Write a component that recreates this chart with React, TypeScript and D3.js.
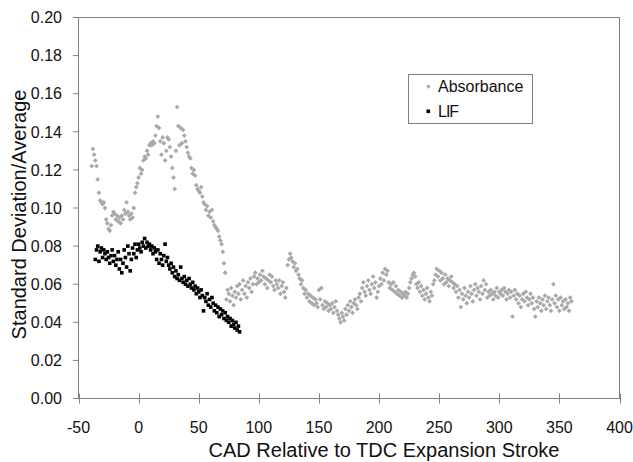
import React from "react";
import * as d3 from "d3";

// CAD grid (1-degree sampling) for each series
const ABS_START = -39;
const LIF_START = -36;

// Absorbance: standard deviation / average, one value per CAD degree from -39 to 360
const absorbanceValues = [
  0.122,0.131,0.128,0.125,0.122,0.115,0.108,0.104,0.103,0.102,
  0.103,0.100,0.094,0.092,0.089,0.088,0.091,0.096,0.098,0.097,
  0.094,0.096,0.093,0.095,0.092,0.096,0.094,0.099,0.097,0.103,
  0.098,0.096,0.094,0.097,0.095,0.100,0.108,0.111,0.113,0.116,
  0.121,0.118,0.120,0.125,0.127,0.126,0.130,0.128,0.133,0.134,
  0.133,0.135,0.134,0.138,0.143,0.148,0.142,0.135,0.128,0.137,
  0.134,0.125,0.130,0.137,0.136,0.132,0.127,0.121,0.116,0.110,
  0.130,0.153,0.143,0.133,0.142,0.134,0.141,0.138,0.135,0.132,
  0.129,0.127,0.126,0.121,0.118,0.120,0.117,0.112,0.110,0.109,
  0.108,0.111,0.106,0.103,0.102,0.099,0.101,0.096,0.098,0.095,
  0.099,0.093,0.091,0.090,0.089,0.088,0.085,0.083,0.081,0.077,
  0.071,0.066,0.052,0.057,0.055,0.051,0.058,0.054,0.049,0.056,
  0.053,0.059,0.055,0.060,0.052,0.057,0.062,0.055,0.059,0.053,
  0.061,0.058,0.063,0.056,0.060,0.064,0.066,0.060,0.063,0.061,
  0.065,0.062,0.067,0.064,0.060,0.063,0.058,0.062,0.065,0.061,
  0.064,0.059,0.057,0.062,0.060,0.058,0.062,0.055,0.059,0.061,
  0.056,0.053,0.058,0.070,0.073,0.076,0.074,0.072,0.069,0.071,
  0.067,0.068,0.065,0.063,0.060,0.062,0.058,0.055,0.057,0.053,
  0.055,0.051,0.054,0.050,0.053,0.049,0.052,0.050,0.048,0.057,
  0.052,0.058,0.049,0.047,0.051,0.048,0.050,0.046,0.049,0.047,
  0.050,0.045,0.048,0.051,0.046,0.044,0.042,0.040,0.045,0.043,
  0.041,0.047,0.044,0.049,0.046,0.051,0.048,0.045,0.050,0.052,
  0.049,0.047,0.053,0.055,0.051,0.058,0.061,0.056,0.054,0.059,
  0.062,0.057,0.055,0.060,0.064,0.058,0.061,0.053,0.056,0.059,
  0.063,0.060,0.066,0.062,0.068,0.065,0.067,0.061,0.058,0.060,
  0.057,0.061,0.056,0.059,0.055,0.057,0.054,0.056,0.053,0.055,
  0.054,0.056,0.053,0.055,0.058,0.061,0.063,0.065,0.066,0.064,
  0.060,0.058,0.061,0.056,0.059,0.054,0.057,0.052,0.055,0.058,
  0.053,0.051,0.056,0.054,0.060,0.062,0.065,0.068,0.064,0.067,
  0.062,0.066,0.063,0.060,0.065,0.061,0.063,0.059,0.062,0.064,
  0.061,0.058,0.060,0.056,0.059,0.053,0.057,0.048,0.055,0.052,
  0.058,0.054,0.050,0.056,0.053,0.059,0.055,0.051,0.057,0.060,
  0.054,0.058,0.056,0.052,0.059,0.055,0.062,0.057,0.060,0.053,
  0.056,0.054,0.057,0.055,0.052,0.056,0.054,0.058,0.053,0.056,
  0.055,0.057,0.054,0.058,0.056,0.052,0.055,0.057,0.053,0.056,
  0.043,0.054,0.057,0.052,0.055,0.050,0.054,0.048,0.052,0.055,
  0.051,0.056,0.053,0.049,0.052,0.055,0.050,0.053,0.047,0.043,
  0.051,0.048,0.053,0.050,0.046,0.052,0.049,0.054,0.047,0.051,
  0.053,0.049,0.046,0.052,0.060,0.050,0.054,0.048,0.052,0.046,
  0.053,0.049,0.051,0.047,0.052,0.048,0.050,0.046,0.053,0.051,
];

// LIF: one value per CAD degree from -36 to 84
const lifValues = [
  0.073,0.078,0.080,0.072,0.077,0.079,0.074,0.078,0.076,0.073,
  0.077,0.074,0.071,0.075,0.078,0.072,0.075,0.070,0.073,0.077,
  0.068,0.073,0.066,0.071,0.078,0.074,0.069,0.080,0.076,0.067,
  0.073,0.079,0.076,0.081,0.074,0.078,0.081,0.079,0.077,0.082,
  0.080,0.084,0.079,0.082,0.080,0.081,0.078,0.080,0.076,0.079,
  0.077,0.073,0.078,0.071,0.076,0.073,0.070,0.075,0.081,0.072,
  0.074,0.070,0.068,0.071,0.066,0.069,0.064,0.067,0.063,0.065,
  0.062,0.069,0.063,0.061,0.064,0.060,0.062,0.059,0.063,0.060,
  0.058,0.061,0.057,0.059,0.055,0.058,0.056,0.053,0.057,0.054,
  0.046,0.053,0.051,0.055,0.049,0.052,0.048,0.053,0.050,0.046,
  0.049,0.045,0.048,0.043,0.047,0.044,0.046,0.042,0.045,0.041,
  0.043,0.040,0.042,0.038,0.041,0.039,0.037,0.040,0.036,0.038,
  0.035,
];

const xTicks = [-50, 0, 50, 100, 150, 200, 250, 300, 350, 400];
const yTicks = [0, 0.02, 0.04, 0.06, 0.08, 0.1, 0.12, 0.14, 0.16, 0.18, 0.2];
const seriesNames = ["Absorbance", "LIF"];
const xTitle = "CAD Relative to TDC Expansion Stroke";
const yTitle = "Standard Deviation/Average";

const FONT = "'Liberation Sans', Arial, sans-serif";
const AXIS = "#808080";
const GRAY = "#a9a9a9";

export default function App() {
  const x = d3.scaleLinear().domain([-50, 400]).range([78.5, 619.5]);
  const y = d3.scaleLinear().domain([0, 0.2]).range([398.5, 17.5]);

  const absData = absorbanceValues.map((v, i) => ({ cad: ABS_START + i, v }));
  const lifData = lifValues.map((v, i) => ({ cad: LIF_START + i, v }));

  const diamond = (cx: number, cy: number, r: number) =>
    `M${cx},${cy - r}L${cx + r},${cy}L${cx},${cy + r}L${cx - r},${cy}Z`;

  const [x0, x1] = x.range();
  const [yb, yt] = y.range();

  return (
    <svg
      width={633}
      height={462}
      style={{ position: "absolute", left: 0, top: 0, background: "#fff" }}
      fontFamily={FONT}
    >
      <rect x={0} y={0} width={633} height={462} fill="#fff" />
      {/* frame */}
      <rect x={x0} y={yt} width={x1 - x0} height={yb - yt} fill="none" stroke={AXIS} strokeWidth={1} />
      {/* y ticks */}
      {yTicks.map((t) => (
        <g key={"y" + t}>
          <line x1={x0 - 5.5} x2={x0} y1={y(t)} y2={y(t)} stroke={AXIS} />
          <text x={62} y={y(t)} dy="0.36em" textAnchor="end" fontSize={16} fill="#111">
            {t.toFixed(2)}
          </text>
        </g>
      ))}
      {/* x ticks */}
      {xTicks.map((t) => (
        <g key={"x" + t}>
          <line x1={Math.round(x(t)) + 0.5} x2={Math.round(x(t)) + 0.5} y1={yb - 5} y2={yb + 5} stroke={AXIS} />
          <text x={x(t)} y={432.5} textAnchor="middle" fontSize={16} fill="#111">
            {t}
          </text>
        </g>
      ))}
      {/* absorbance */}
      {absData.map((d) => (
        <path key={"a" + d.cad} d={diamond(x(d.cad), y(d.v), 2.4)} fill={GRAY} />
      ))}
      {/* LIF */}
      {lifData.map((d) => (
        <rect key={"l" + d.cad} x={x(d.cad) - 1.8} y={y(d.v) - 1.8} width={3.6} height={3.6} fill="#000" />
      ))}
      {/* legend */}
      <rect x={408.5} y={74.5} width={124} height={49} fill="#fff" stroke={AXIS} />
      <path d={diamond(428.5, 86.5, 2.2)} fill={GRAY} />
      <text x={438} y={92} fontSize={16} fill="#111">{seriesNames[0]}</text>
      <rect x={426.5} y={109.5} width={3.6} height={3.6} fill="#000" />
      <text x={438} y={116.5} fontSize={16} fill="#111" letterSpacing={-1}>{seriesNames[1]}</text>
      {/* axis titles */}
      <text x={384} y={457} textAnchor="middle" fontSize={20} fill="#111">
        {xTitle}
      </text>
      <text transform="translate(26,214.5) rotate(-90)" textAnchor="middle" fontSize={20} fill="#111">
        {yTitle}
      </text>
    </svg>
  );
}
